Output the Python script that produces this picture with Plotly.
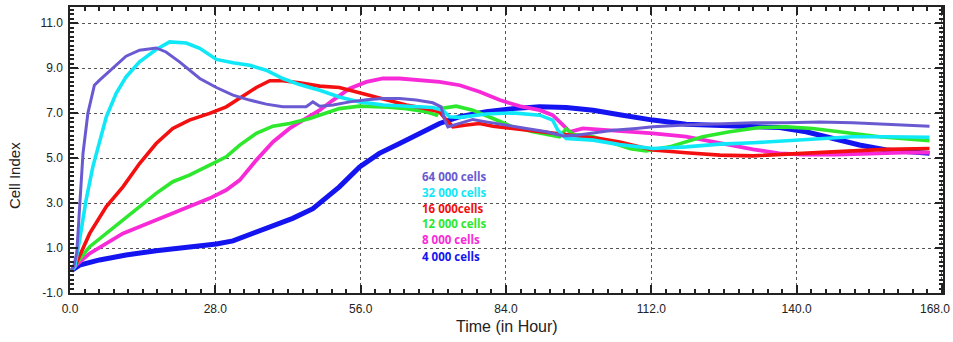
import plotly.graph_objects as go

# ---- data (hours, cell index) ----
h64 = [0.3, 0.7, 1.3, 1.85, 2.5, 3.45, 4.7, 5.7, 8.3, 10.8, 13.4, 16.6, 18.5, 21.1, 25, 28.2, 31.4, 34.6,
       37.8, 41, 45.5, 46.8, 48.1, 50.7, 53.9, 57.1, 60.3, 63.5, 66.7, 69.9, 71.5, 72.2, 72.8, 75.1, 77.6,
       80.2, 84.1, 87.9, 91.8, 95, 97.6, 100.8, 104.6, 109.1, 112.3, 118.7, 125.2, 131.6, 138, 144.4,
       150.8, 157.3, 165.6]
v64 = [0.0, 0.16, 0.78, 2.8, 5.2, 7.0, 8.24, 8.47, 8.99, 9.53, 9.8, 9.9, 9.72, 9.28, 8.54, 8.14, 7.8, 7.58,
       7.4, 7.28, 7.28, 7.5, 7.31, 7.36, 7.5, 7.6, 7.65, 7.65, 7.58, 7.46, 7.28, 6.69, 6.39, 6.54, 6.72,
       6.61, 6.47, 6.32, 6.17, 5.98, 6.02, 6.12, 6.24, 6.32, 6.39, 6.47, 6.51, 6.57, 6.57, 6.61,
       6.57, 6.51, 6.42]

h32 = [0.3, 0.9, 1.85, 3.1, 4.4, 5.7, 7, 8.9, 10.8, 13.4, 16.6, 19.2, 22.4, 25, 28.2, 31.4, 34.6, 37.8,
       41, 44.2, 48.1, 51.9, 55.8, 60.3, 65.5, 69.9, 71.8, 73.1, 75.1, 80.2, 85.3, 90.5, 93, 94, 95.6,
       100.8, 105.9, 112.3, 118.7, 125.2, 131.6, 138, 144.4, 150.8, 157.3, 165.6]
v32 = [0.0, 0.16, 1.36, 3.13, 4.61, 5.8, 6.84, 7.88, 8.61, 9.28, 9.83, 10.17, 10.12, 9.88, 9.39, 9.24, 9.13, 8.91,
       8.54, 8.27, 8.02, 7.72, 7.5, 7.36, 7.28, 7.25, 7.13, 6.84, 6.81, 6.96, 7.01, 6.91, 6.69, 6.24, 5.87,
       5.8, 5.6, 5.43, 5.5, 5.62, 5.68, 5.77, 5.88, 5.95, 5.95, 5.93]

h16 = [0.3, 1.2, 3.8, 7, 10.2, 13.4, 16.6, 19.8, 23, 26.9, 30.1, 32.7, 35.9, 38.5, 41, 44.2, 48.1, 51.9,
       53.9, 57.1, 60.9, 64.8, 68.6, 71.2, 72.5, 73.8, 76.4, 78.9, 81.5, 85.3, 89.2, 94.3, 98.2, 102,
       105.9, 112.3, 118.7, 125.2, 131.6, 138, 144.4, 150.8, 157.3, 165.6]
v16 = [0.0, 0.32, 1.65, 2.84, 3.72, 4.76, 5.65, 6.32, 6.69, 6.99, 7.28, 7.65, 8.14, 8.44, 8.44, 8.35, 8.2, 8.14,
       8.02, 7.8, 7.58, 7.36, 7.2, 7.06, 6.69, 6.39, 6.47, 6.54, 6.42, 6.32, 6.21, 6.1, 5.98, 5.87,
       5.72, 5.36, 5.24, 5.13, 5.1, 5.16, 5.25, 5.32, 5.39, 5.43]

h12 = [0.3, 1.2, 3.8, 7, 10.2, 13.4, 16.6, 19.8, 23, 26.9, 30.1, 32.7, 35.9, 39.1, 42.3, 46.2, 48.1, 51.9,
       55.8, 60.3, 64.8, 68.6, 70.6, 71.2, 74.4, 77.6, 81.5, 85.3, 89.2, 94.3, 95.6, 97, 100.8, 104.6,
       108, 111, 115.5, 121.9, 127.1, 132.9, 138, 143.1, 149.6, 156, 165.6]
v12 = [0.0, 0.32, 1.06, 1.65, 2.24, 2.84, 3.43, 3.95, 4.24, 4.69, 5.06, 5.58, 6.1, 6.42, 6.54, 6.76, 6.91, 7.2,
       7.31, 7.28, 7.2, 7.06, 6.91, 7.2, 7.31, 7.13, 6.76, 6.39, 6.17, 5.95, 6.3, 6.05, 5.95, 5.65,
       5.42, 5.32, 5.5, 5.95, 6.17, 6.36, 6.39, 6.32, 6.12, 5.95, 5.77]

h8 = [0.3, 1.2, 3.8, 7, 10.2, 13.4, 16.6, 19.8, 23, 26.9, 30.1, 32.7, 35.9, 39.1, 42.3, 45.5, 48.1, 50.7,
      53.9, 57.1, 60.3, 63.5, 66.7, 71.2, 75.1, 78.9, 82.8, 86.6, 90.5, 93, 95, 96.3, 98.8, 102, 105.9,
      112.3, 118.7, 125.2, 131.6, 136.7, 141.2, 147.7, 154.1, 160.5, 165.6]
v8 = [0.0, 0.24, 0.76, 1.21, 1.65, 1.95, 2.24, 2.54, 2.84, 3.21, 3.58, 4.02, 4.91, 5.72, 6.32, 6.76, 7.13, 7.58,
      8.1, 8.39, 8.54, 8.54, 8.47, 8.39, 8.24, 7.95, 7.58, 7.31, 7.13, 6.91, 6.47, 6.17, 6.32, 6.27, 6.17,
      6.1, 5.95, 5.65, 5.39, 5.21, 5.16, 5.16, 5.21, 5.24, 5.24]

h4 = [0.3, 1.85, 5.7, 10.8, 16.6, 22.4, 28.2, 31.4, 35.2, 39.1, 42.9, 46.8, 48.1, 51.9, 55.8, 59.6, 63.5,
      67.4, 71.2, 75.1, 80.2, 85.3, 90.5, 95.6, 100.8, 105.9, 112.3, 118.7, 125.2, 131.6, 136.7, 141.8,
      147, 152.1, 157.3, 165.6]
v4 = [0.0, 0.24, 0.47, 0.69, 0.88, 1.03, 1.18, 1.32, 1.65, 1.95, 2.32, 2.75, 2.99, 3.72, 4.61, 5.21, 5.65,
      6.1, 6.54, 6.84, 7.06, 7.2, 7.28, 7.25, 7.13, 6.93, 6.69, 6.51, 6.47, 6.42, 6.36, 6.17,
      5.88, 5.58, 5.36, 5.21]

labels = ["64 000 cells", "32 000 cells", "16 000cells", "12 000 cells", "8 000 cells", "4 000 cells"]
label_y = [4.2, 3.49, 2.78, 2.07, 1.36, 0.64]
x_ticks = [0, 28, 56, 84, 112, 140, 168]
y_ticks = [-1, 1, 3, 5, 7, 9, 11]

colors = ["#6a5ad2", "#10e8f8", "#f41010", "#2ee82e", "#f82ad8", "#1414f0"]
widths = [3.0, 3.6, 3.6, 3.6, 3.8, 5.0]

fig = go.Figure()
series = [(h64, v64), (h32, v32), (h16, v16), (h12, v12), (h8, v8), (h4, v4)]
order = [5, 4, 3, 2, 1, 0]
for i in order:
    hx, vy = series[i]
    fig.add_trace(go.Scatter(x=hx, y=vy, mode="lines",
                             line=dict(color=colors[i], width=widths[i]),
                             name=labels[i], showlegend=False))

for i, t in enumerate(labels):
    fig.add_annotation(x=67.4, y=label_y[i], text="<b>" + t + "</b>", showarrow=False,
                       xanchor="left", yanchor="middle",
                       font=dict(family="Open Sans, Liberation Sans, sans-serif", size=11.5,
                                 color=colors[i]))

tick_font = dict(family="Liberation Sans, Arial, sans-serif", size=12, color="#222")
title_font = dict(family="Liberation Sans, Arial, sans-serif", color="#222")
fig.add_annotation(xref="paper", yref="paper", x=-0.0641, y=0.409, text="Cell Index",
                   textangle=-90, showarrow=False, xanchor="center", yanchor="middle",
                   font=dict(size=15, **title_font))
fig.add_annotation(xref="paper", yref="paper", x=0.5006, y=-0.1154, text="Time (in Hour)",
                   showarrow=False, xanchor="center", yanchor="middle",
                   font=dict(size=16, **title_font))
# last x tick label kept inside the page edge
fig.add_annotation(xref="paper", yref="paper", x=1.0103, y=-0.056, text=f"{x_ticks[-1]:.1f}",
                   showarrow=False, xanchor="right", yanchor="middle", font=tick_font)

axis_common = dict(showline=True, linecolor="#222", linewidth=1.5, mirror="ticks",
                   ticks="inside", ticklen=8, tickcolor="#222", tickwidth=1.5,
                   showgrid=True, gridcolor="#555", griddash="dot", gridwidth=1,
                   zeroline=False, automargin=False, tickfont=tick_font)

fig.update_xaxes(range=[0, 168.2], tickvals=x_ticks,
                 ticktext=[f"{v:.1f}" for v in x_ticks[:-1]] + [""],
                 minor=dict(dtick=2.8, tick0=0, ticks="inside", ticklen=4, tickcolor="#222", showgrid=False),
                 ticklabelstandoff=4, **axis_common)
fig.update_yaxes(range=[-1, 11.72], tickvals=y_ticks, ticktext=[f"{v:.1f}" for v in y_ticks],
                 minor=dict(dtick=0.2, tick0=-1, ticks="inside", ticklen=4, tickcolor="#222", showgrid=False),
                 ticklabelstandoff=3, **axis_common)

fig.update_layout(width=953, height=342, margin=dict(l=70, r=10, t=7, b=49),
                  paper_bgcolor="white", plot_bgcolor="white")

fig.write_html("out.html", config={"displayModeBar": False},
               post_script="document.body.style.margin='0px';")
